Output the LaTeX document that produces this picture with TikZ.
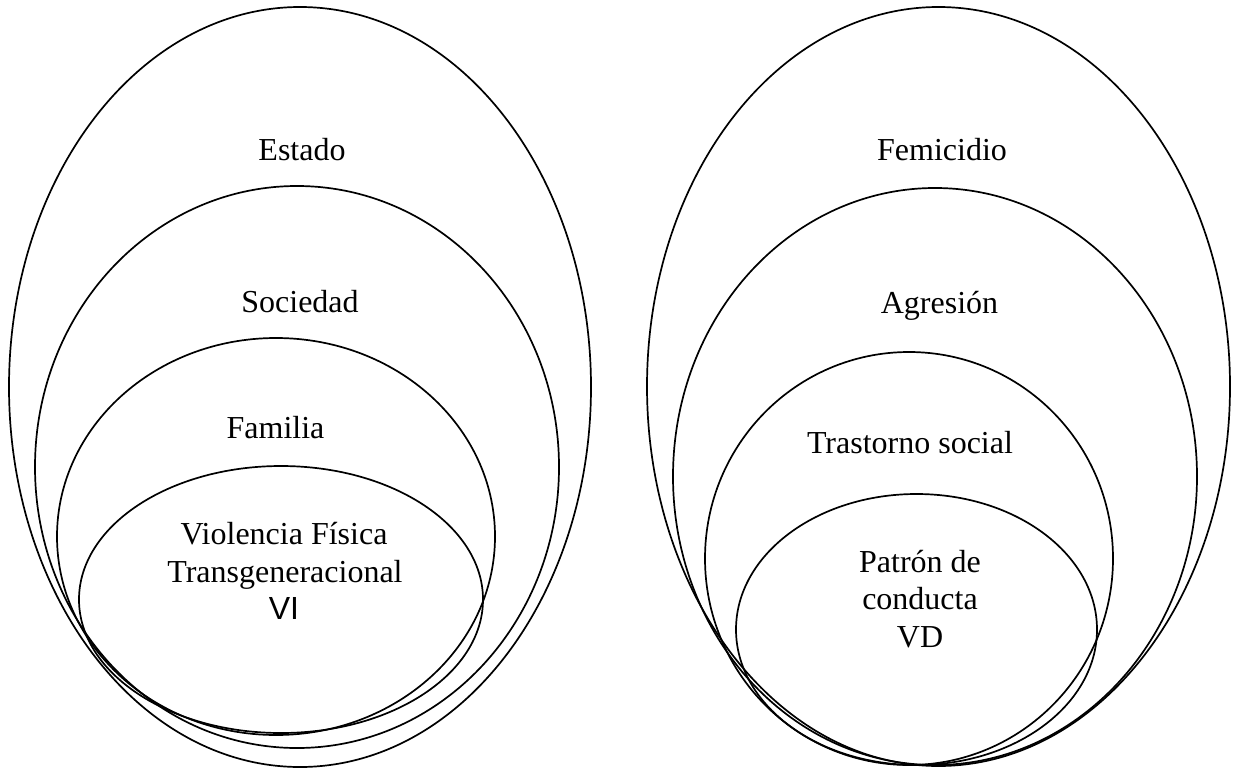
\documentclass[tikz,border=0pt]{standalone}
\usepackage{fontspec}
\setmainfont{Liberation Serif}
\newfontfamily\sansf{Liberation Sans}
\begin{document}
\begin{tikzpicture}[x=1pt,y=-1pt,
  ring/.style={draw=black,line width=1.7pt},
  lbl/.style={inner sep=0pt,anchor=base,font=\fontsize{32}{38}\selectfont}]
\useasboundingbox (0,0) rectangle (1238,768);
% left group
\draw[ring] (300,387) ellipse [x radius=291,y radius=380];
\draw[ring] (297,467) ellipse [x radius=262,y radius=281];
\draw[ring] (276,536.5) ellipse [x radius=219,y radius=198.5];
\draw[ring] (281,599.5) ellipse [x radius=202,y radius=133.5];
% right group
\draw[ring] (938.5,386.5) ellipse [x radius=291.5,y radius=379.5];
\draw[ring] (935,476.5) ellipse [x radius=262,y radius=288.5];
\draw[ring] (909,558.5) ellipse [x radius=204,y radius=206.5];
\draw[ring] (916.5,629.5) ellipse [x radius=180.5,y radius=135.5];
% labels
\node[lbl] (estado) at (302,160) {Estado};
\node[lbl] (sociedad) at (300,312) {Sociedad};
\node[lbl] (familia) at (275.5,438) {Familia};
\node[lbl] (vf1) at (284,544) {Violencia Física};
\node[lbl] (vf2) at (285,582) {Transgeneracional};
\node[lbl,font=\fontsize{32}{38}\sansf] (vf3) at (284,619) {VI};
\node[lbl] (femicidio) at (942,160) {Femicidio};
\node[lbl] (agresion) at (939.5,313) {Agresión};
\node[lbl] (trastorno) at (910,453) {Trastorno social};
\node[lbl] (pc1) at (920,572) {Patrón de};
\node[lbl] (pc2) at (920,609) {conducta};
\node[lbl] (pc3) at (920,647) {VD};
\end{tikzpicture}
\end{document}
